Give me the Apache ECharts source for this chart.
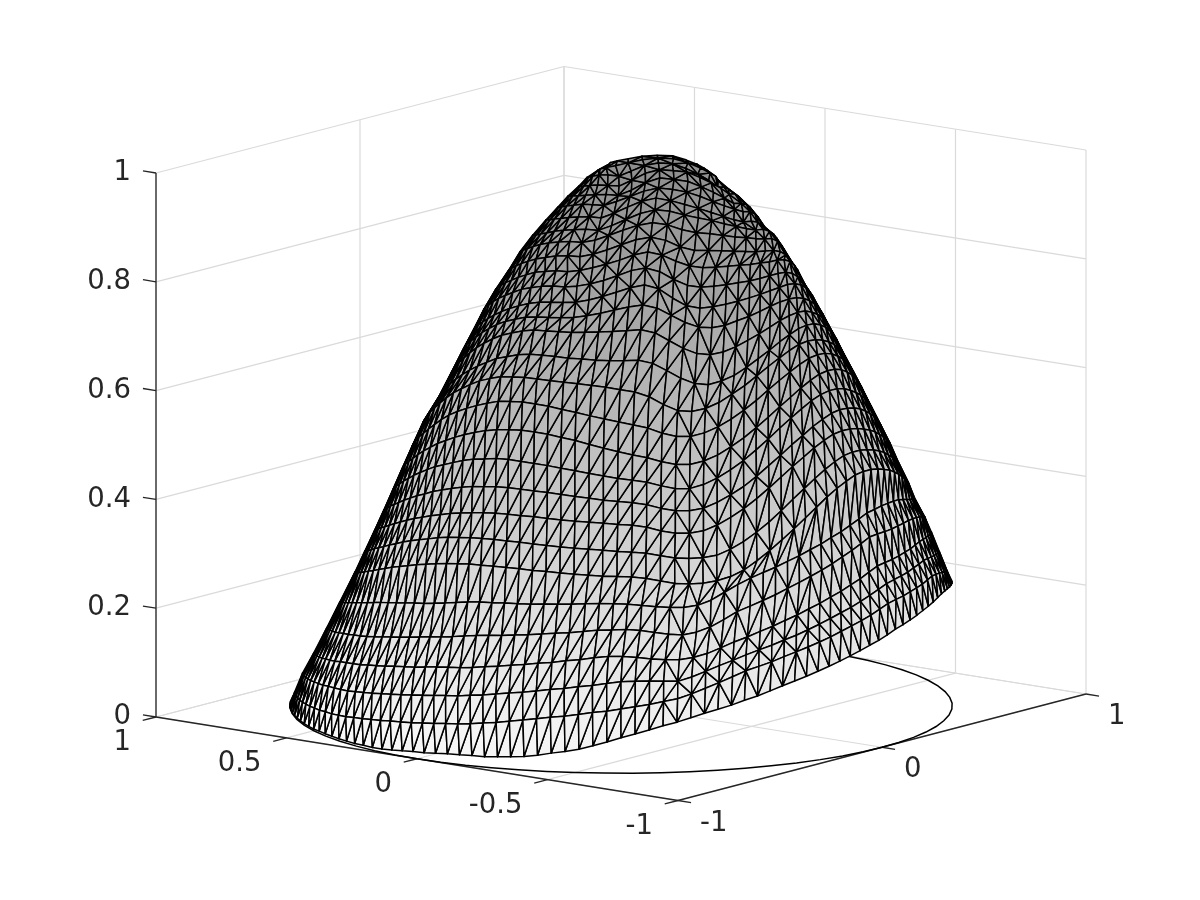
<!DOCTYPE html>
<html><head><meta charset="utf-8">
<style>html,body{margin:0;padding:0;background:#fff}#c{width:1200px;height:900px}</style>
<script src="https://cdn.jsdelivr.net/npm/echarts@6/dist/echarts.min.js"></script>
</head><body><div id="c"></div>
<script>
const xTicks=[1,0.5,0,-0.5,-1];
const xTickLabels=['1','0.5','0','-0.5','-1'];
const yTicks=[-1,0,1];
const yTickLabels=['-1','0','1'];
const zTicks=[0,0.2,0.4,0.6,0.8,1];
const zTickLabels=['0','0.2','0.4','0.6','0.8','1'];
const circleX=[1,.996,.985,.966,.94,.906,.866,.819,.766,.707,.643,.574,.5,.423,.342,.259,.174,.087,0,-.087,-.174,-.259,-.342,-.423,-.5,-.574,-.643,-.707,-.766,-.819,-.866,-.906,-.94,-.966,-.985,-.996,-1,-.996,-.985,-.966,-.94,-.906,-.866,-.819,-.766,-.707,-.643,-.574,-.5,-.423,-.342,-.259,-.174,-.087,0,.087,.174,.259,.342,.423,.5,.574,.643,.707,.766,.819,.866,.906,.94,.966,.985,.996,1];
const circleY=[0,.087,.174,.259,.342,.423,.5,.574,.643,.707,.766,.819,.866,.906,.94,.966,.985,.996,1,.996,.985,.966,.94,.906,.866,.819,.766,.707,.643,.574,.5,.423,.342,.259,.174,.087,0,-.087,-.174,-.259,-.342,-.423,-.5,-.574,-.643,-.707,-.766,-.819,-.866,-.906,-.94,-.966,-.985,-.996,-1,-.996,-.985,-.966,-.94,-.906,-.866,-.819,-.766,-.707,-.643,-.574,-.5,-.423,-.342,-.259,-.174,-.087,0];
const ringRadius=[1,.985,.961,.932,.903,.869,.835,.805,.777,.75,.723,.697,.669,.64,.605,.573,.545,.516,.489,.46,.428,.4,.369,.332,.304,.276,.243,.215,.181,.148];
const ringShift=[0,0,0,.005,.015,.02,.032,.032,.034,.034,.034,.035,.037,.041,.052,.06,.066,.071,.074,.081,.09,.095,.103,.106,.113,.117,.116,.113,.112,.109];
const ringHeights=[
[.002,.002,.002,.002,.003,.003,.003,.003,.003,.003,.004,.004,.004,.004,.004,.004,.005,.005,.006,.008,.01,.012,.013,.015,.017,.018,.019,.019,.021,.023,.025,.029,.034,.038,.043,.05,.057,.065,.072,.079,.086,.092,.099,.106,.112,.118,.125,.131,.138,.145,.151,.157,.163,.169,.175,.181,.187,.193,.198,.204,.21,.214,.218,.222,.226,.229,.232,.235,.237,.237,.236,.234,.232,.23,.228],
[.025,.026,.028,.029,.031,.032,.034,.035,.037,.038,.04,.041,.043,.045,.048,.05,.053,.055,.058,.06,.062,.065,.067,.07,.072,.075,.079,.082,.086,.09,.094,.098,.101,.105,.109,.112,.116,.12,.124,.129,.133,.141,.15,.159,.168,.177,.183,.189,.196,.202,.208,.214,.22,.227,.233,.239,.245,.252,.258,.261,.263,.266,.268,.27,.273,.275,.273,.27,.266,.262,.258,.253,.247],
[.06,.062,.065,.067,.07,.072,.075,.077,.079,.082,.084,.086,.088,.091,.094,.097,.1,.103,.106,.109,.112,.115,.118,.12,.124,.127,.131,.135,.138,.142,.146,.149,.153,.156,.16,.163,.164,.164,.163,.162,.169,.178,.187,.195,.203,.21,.216,.223,.229,.236,.243,.25,.257,.263,.27,.277,.284,.29,.293,.295,.297,.3,.302,.304,.302,.3,.297,.294,.291,.287,.283],
[.097,.1,.103,.107,.11,.113,.117,.12,.123,.127,.13,.133,.136,.14,.143,.146,.15,.153,.156,.16,.163,.166,.168,.171,.175,.178,.182,.185,.189,.192,.196,.199,.203,.206,.206,.204,.201,.199,.198,.201,.207,.216,.225,.232,.24,.247,.255,.262,.27,.277,.285,.292,.3,.307,.315,.322,.324,.325,.327,.329,.33,.332,.333,.332,.33,.328,.325,.322,.319],
[.143,.147,.15,.154,.158,.161,.165,.169,.172,.176,.179,.183,.187,.191,.195,.199,.203,.207,.211,.214,.218,.222,.226,.229,.231,.234,.236,.239,.242,.244,.247,.25,.251,.252,.25,.246,.242,.24,.244,.252,.264,.277,.285,.293,.301,.31,.318,.326,.334,.342,.351,.359,.367,.375,.376,.376,.376,.377,.377,.377,.375,.372,.368,.363,.358,.352,.345],
[.19,.195,.2,.205,.21,.215,.22,.225,.23,.235,.24,.245,.249,.253,.257,.261,.264,.268,.272,.276,.28,.283,.284,.286,.287,.288,.29,.291,.292,.294,.295,.295,.294,.292,.289,.287,.286,.289,.297,.31,.322,.332,.34,.347,.355,.362,.37,.377,.385,.392,.4,.407,.414,.416,.418,.418,.417,.415,.41,.405,.4,.395,.39,.384,.378],
[.245,.25,.254,.26,.266,.272,.279,.285,.292,.299,.306,.312,.318,.324,.329,.334,.338,.341,.344,.345,.346,.346,.346,.345,.345,.344,.343,.342,.341,.341,.34,.337,.332,.327,.325,.325,.328,.334,.344,.359,.375,.392,.409,.426,.442,.457,.469,.478,.485,.487,.486,.482,.476,.47,.461,.452,.442,.433,.425,.417,.411],
[.284,.289,.294,.301,.307,.315,.322,.329,.337,.344,.352,.359,.365,.371,.377,.382,.385,.388,.39,.391,.391,.391,.39,.389,.388,.387,.386,.385,.383,.382,.38,.375,.37,.368,.368,.371,.38,.392,.407,.423,.441,.459,.475,.49,.503,.513,.52,.522,.521,.517,.512,.505,.497,.487,.479,.47,.461,.454,.448],
[.323,.329,.334,.341,.348,.355,.363,.371,.379,.387,.395,.402,.409,.415,.421,.426,.43,.433,.435,.436,.436,.436,.435,.434,.433,.432,.431,.429,.428,.424,.417,.412,.411,.414,.423,.435,.449,.465,.482,.499,.515,.529,.542,.552,.559,.561,.56,.556,.55,.543,.535,.525,.516,.507,.498,.49,.484],
[.359,.365,.372,.379,.388,.396,.405,.414,.423,.432,.44,.449,.456,.463,.469,.474,.477,.48,.481,.481,.48,.479,.477,.475,.473,.47,.468,.466,.462,.455,.45,.449,.452,.461,.473,.486,.502,.519,.535,.551,.564,.577,.586,.593,.595,.593,.589,.582,.573,.563,.553,.542,.532,.523,.516],
[.396,.403,.411,.42,.429,.439,.449,.46,.47,.48,.49,.498,.506,.514,.52,.524,.528,.529,.528,.527,.525,.522,.519,.515,.511,.507,.504,.5,.493,.487,.486,.492,.502,.515,.53,.547,.564,.581,.596,.609,.62,.627,.63,.629,.624,.616,.607,.597,.586,.575,.564,.555,.547],
[.433,.441,.449,.46,.47,.481,.493,.505,.516,.528,.538,.548,.557,.565,.572,.577,.58,.582,.581,.579,.575,.571,.565,.559,.553,.547,.542,.534,.528,.527,.532,.541,.554,.568,.584,.6,.616,.63,.643,.653,.66,.662,.66,.654,.645,.634,.621,.608,.596,.585,.576],
[.473,.482,.492,.503,.515,.527,.54,.553,.567,.58,.591,.601,.61,.618,.625,.628,.63,.629,.627,.623,.619,.614,.609,.604,.599,.593,.583,.576,.575,.58,.589,.601,.615,.63,.646,.66,.672,.682,.689,.691,.689,.683,.674,.663,.65,.638,.626,.615,.606],
[.516,.526,.536,.548,.561,.574,.588,.602,.616,.628,.64,.651,.659,.666,.669,.671,.671,.67,.669,.668,.666,.664,.66,.656,.647,.632,.62,.617,.621,.63,.643,.656,.671,.685,.697,.707,.714,.716,.714,.708,.7,.69,.677,.665,.654,.644,.635],
[.562,.571,.581,.592,.605,.618,.631,.644,.657,.669,.68,.691,.698,.705,.709,.71,.71,.709,.709,.708,.708,.709,.71,.704,.69,.675,.664,.66,.665,.673,.685,.698,.71,.722,.731,.738,.74,.738,.731,.721,.709,.696,.684,.672,.663],
[.608,.618,.628,.64,.652,.665,.679,.693,.706,.718,.729,.737,.744,.749,.75,.751,.752,.754,.756,.758,.76,.762,.756,.741,.726,.715,.711,.714,.721,.73,.739,.748,.756,.761,.763,.761,.754,.745,.734,.722,.71,.699,.69],
[.65,.659,.669,.68,.691,.703,.716,.728,.74,.75,.758,.765,.769,.771,.773,.776,.781,.787,.794,.8,.804,.798,.784,.77,.76,.757,.759,.765,.77,.776,.782,.786,.787,.785,.779,.77,.759,.747,.735,.725,.716],
[.69,.698,.707,.716,.726,.737,.748,.759,.769,.778,.786,.792,.795,.797,.8,.806,.814,.823,.832,.837,.83,.812,.797,.791,.792,.794,.797,.8,.803,.806,.808,.809,.806,.799,.788,.775,.762,.749,.74],
[.727,.734,.743,.752,.763,.774,.784,.794,.804,.811,.817,.821,.822,.826,.832,.84,.85,.86,.865,.858,.843,.831,.826,.826,.826,.827,.827,.828,.829,.829,.827,.82,.809,.797,.784,.773,.764],
[.764,.771,.779,.788,.798,.807,.817,.826,.835,.84,.845,.846,.851,.858,.866,.875,.885,.891,.885,.873,.863,.858,.857,.856,.855,.853,.852,.85,.849,.845,.837,.825,.811,.798,.788],
[.801,.808,.815,.824,.834,.843,.852,.859,.866,.87,.871,.878,.888,.899,.909,.914,.908,.895,.887,.885,.882,.878,.874,.87,.867,.863,.856,.845,.833,.821,.812],
[.834,.84,.848,.856,.865,.874,.881,.887,.892,.893,.9,.911,.922,.932,.937,.933,.923,.916,.912,.906,.9,.895,.889,.884,.88,.87,.857,.844,.834],
[.865,.87,.876,.883,.89,.898,.904,.909,.913,.914,.925,.938,.95,.957,.954,.946,.939,.932,.923,.915,.907,.9,.897,.888,.877,.865,.856],
[.893,.898,.903,.91,.916,.922,.927,.931,.932,.943,.956,.968,.974,.969,.961,.952,.942,.932,.922,.914,.911,.904,.894,.884,.876],
[.916,.921,.927,.934,.94,.946,.949,.951,.961,.972,.983,.989,.986,.98,.97,.958,.947,.937,.928,.924,.914,.903,.894],
[.937,.941,.947,.952,.958,.963,.967,.968,.98,.995,1.004,1.001,.996,.984,.971,.957,.943,.939,.931,.921,.913],
[.955,.959,.965,.971,.976,.979,.981,.994,1.008,1.015,1.013,1.009,.997,.984,.97,.955,.951,.941,.931],
[.971,.976,.983,.99,.994,.995,1.007,1.019,1.024,1.022,1.012,.999,.984,.968,.963,.955,.948],
[.984,.992,1,1.008,1.017,1.025,1.029,1.027,1.017,1.004,.99,.978,.966],
[.994,1.004,1.012,1.02,1.027,1.03,1.028,1.018,1.006,.994,.985]
];

// oblique view of the box: screen offset per unit of x, y, z
const view={xu:-261,xv:41.75,yu:204,yv:53.25,zv:544};
const project=(x,y,z)=>[view.xu*x+view.yu*y, view.xv*x+view.yv*y+view.zv*z];
// horizontal and depth directions of the view, in the x-y plane
const across=[-.7878,.6158], toward=[-.6158,-.7878];

const verts=ringHeights.map((row,k)=>{
  const half=(row.length-1)/2;
  return row.map((z,i)=>{
    const psi=(i-half)/half*Math.PI/2;
    const s=ringShift[k]+ringRadius[k]*Math.sin(psi), d=ringRadius[k]*Math.cos(psi);
    const x=across[0]*s+toward[0]*d, y=across[1]*s+toward[1]*d;
    return {p:project(x,y,z),z};
  });
});
const tris=[];
const addTri=(a,b,c)=>{tris.push([a.p[0],a.p[1],b.p[0],b.p[1],c.p[0],c.p[1],(a.z+b.z+c.z)/3]);};
for(let k=ringHeights.length-2;k>=0;k--){
  const lo=verts[k],up=verts[k+1];
  const hl=(lo.length-1)/2,hu=(up.length-1)/2;
  const upAt=j=>up[Math.max(0,Math.min(up.length-1,Math.round(j+hu)))];
  for(let i=0;i<lo.length-1;i++){
    const j=i-hl;
    const a=lo[i],b=lo[i+1],c=upAt(j+1),d=upAt(j);
    if(c===d){addTri(a,b,c);continue;}
    let slash=j<3;
    if(j>=3&&j<14) slash=(j+k)%2===0;
    if(k>=16&&j>=-6&&j<14) slash=(j+k)%2===0;
    if(slash){addTri(a,b,c);addTri(a,c,d);}
    else{addTri(a,b,d);addTri(b,c,d);}
  }
}

const seg=(a,b)=>{const p=project(...a),q=project(...b);return [p[0],p[1],q[0],q[1]];};
const gridSegs=[];
zTicks.forEach(z=>{gridSegs.push(seg([1,-1,z],[1,1,z]));gridSegs.push(seg([1,1,z],[-1,1,z]));});
yTicks.forEach(y=>{gridSegs.push(seg([1,y,0],[1,y,1]));gridSegs.push(seg([-1,y,0],[1,y,0]));});
xTicks.forEach(x=>{gridSegs.push(seg([x,1,0],[x,1,1]));gridSegs.push(seg([x,-1,0],[x,1,0]));});
const axisSegs=[seg([1,-1,0],[1,-1,1]),seg([1,-1,0],[-1,-1,0]),seg([-1,-1,0],[-1,1,0])];
xTicks.forEach(x=>axisSegs.push(seg([x,-1,0],[x,-1.065,0])));
yTicks.forEach(y=>axisSegs.push(seg([-1,y,0],[-1.05,y,0])));
zTicks.forEach(z=>axisSegs.push(seg([1,-1,z],[1.05,-1,z])));
const circlePts=circleX.map((x,i)=>project(x,circleY[i],0));

const labels=[];
zTicks.forEach((z,i)=>{const p=project(1,-1,z);labels.push([p[0],p[1],zTickLabels[i],-25,0,'right']);});
xTicks.forEach((x,i)=>{const p=project(x,-1,0);labels.push([p[0],p[1],xTickLabels[i],-25,26,'right']);});
yTicks.forEach((y,i)=>{const p=project(-1,y,0);labels.push([p[0],p[1],yTickLabels[i],22,23,'left']);});

const lineSeries=(data,color,width)=>({
  type:'custom',coordinateSystem:'cartesian2d',silent:true,animation:false,progressive:0,clip:false,
  data,
  renderItem:(params,api)=>{
    const a=api.coord([api.value(0),api.value(1)]),b=api.coord([api.value(2),api.value(3)]);
    return {type:'line',shape:{x1:a[0],y1:a[1],x2:b[0],y2:b[1]},style:{stroke:color,lineWidth:width,fill:null}};
  }
});

const chart=echarts.init(document.getElementById('c'));
chart.setOption({
  animation:false,
  backgroundColor:'#fff',
  grid:{left:0,top:0,width:1200,height:900},
  xAxis:{type:'value',min:-621,max:579,show:false},
  yAxis:{type:'value',min:-194.5,max:705.5,show:false},
  series:[
    lineSeries(gridSegs,'#dadada',1.2),
    lineSeries(axisSegs,'#262626',1.3),
    {type:'custom',coordinateSystem:'cartesian2d',silent:true,animation:false,clip:false,
     data:[[0,0]],
     renderItem:(params,api)=>({type:'polyline',shape:{points:circlePts.map(p=>api.coord(p))},style:{stroke:'#000',lineWidth:1.5,fill:null}})},
    {type:'custom',coordinateSystem:'cartesian2d',silent:true,animation:false,progressive:0,clip:false,
     data:tris,
     renderItem:(params,api)=>{
       const pts=[0,2,4].map(i=>api.coord([api.value(i),api.value(i+1)]));
       const g=Math.round(250-105*api.value(6));
       return {type:'polygon',shape:{points:pts},style:{fill:`rgb(${g},${g},${g})`,stroke:'#000',lineWidth:1.5,lineJoin:'round'}};
     }},
    {type:'custom',coordinateSystem:'cartesian2d',silent:true,animation:false,clip:false,
     data:labels.map(l=>[l[0],l[1]]),
     renderItem:(params,api)=>{
       const l=labels[params.dataIndex];
       const p=api.coord([l[0],l[1]]);
       return {type:'text',style:{x:p[0]+l[3],y:p[1]+l[4],text:l[2],fill:'#262626',fontFamily:'DejaVu Sans',fontSize:27.5,align:l[5],verticalAlign:'middle'}};
     }}
  ]
});
</script></body></html>
